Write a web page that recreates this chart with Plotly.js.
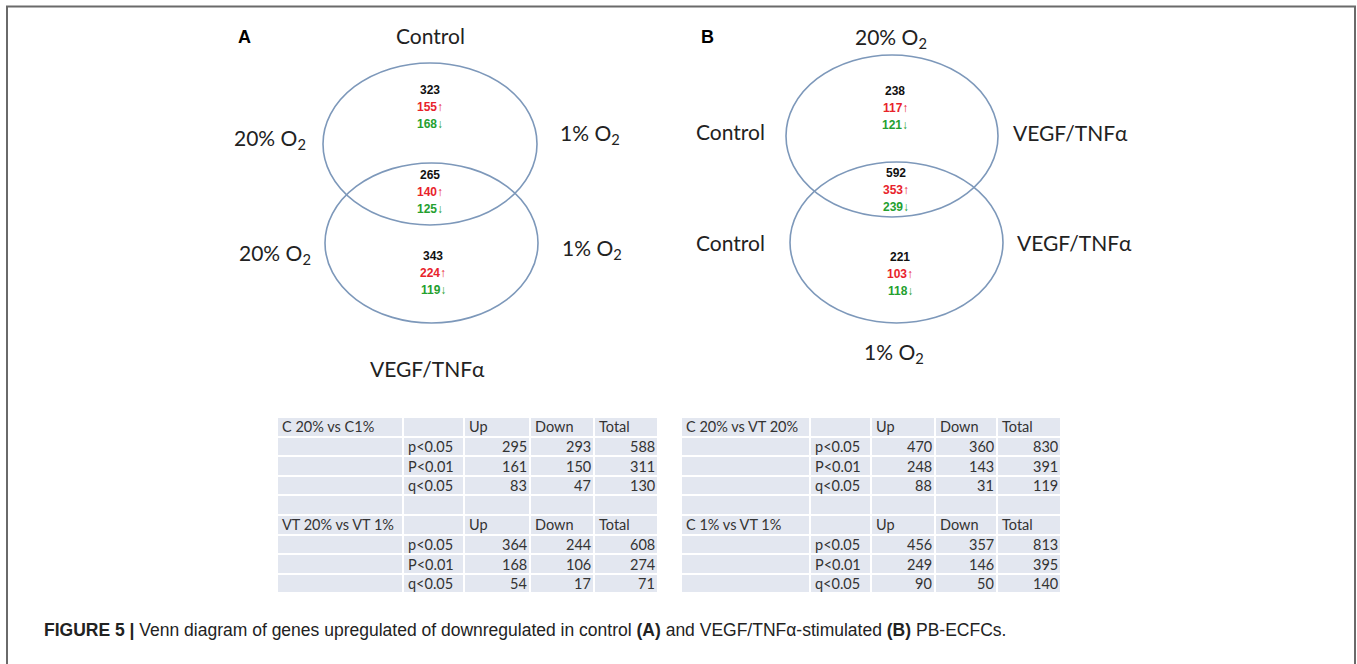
<!DOCTYPE html>
<html><head><meta charset="utf-8">
<script src="https://cdn.plot.ly/plotly-3.0.1.min.js"></script>
<style>html,body{margin:0;padding:0;background:#fff;overflow:hidden}</style>
</head><body><div id="chart" style="width:1357px;height:664px"></div>
<script>
// ---------------- DATA ----------------
const vennRegions = ['upper only', 'overlap', 'lower only'];
const vennATotal = [323, 265, 343];
const vennAUp = [155, 140, 224];
const vennADown = [168, 125, 119];
const vennALabels = ['Control', '20% O<sub>2</sub>', '1% O<sub>2</sub>', '20% O<sub>2</sub>', '1% O<sub>2</sub>', 'VEGF/TNFα'];

const vennBTotal = [238, 592, 221];
const vennBUp = [117, 353, 103];
const vennBDown = [121, 239, 118];
const vennBLabels = ['20% O<sub>2</sub>', 'Control', 'VEGF/TNFα', 'Control', 'VEGF/TNFα', '1% O<sub>2</sub>'];

const tableHeaders = ['Up', 'Down', 'Total'];
const thresholds = ['p<0.05', 'P<0.01', 'q<0.05'];

const tA1Title = 'C 20% vs C1%';
const tA1Up = [295, 161, 83];
const tA1Down = [293, 150, 47];
const tA1Total = [588, 311, 130];

const tA2Title = 'VT 20% vs VT 1%';
const tA2Up = [364, 168, 54];
const tA2Down = [244, 106, 17];
const tA2Total = [608, 274, 71];

const tB1Title = 'C 20% vs VT 20%';
const tB1Up = [470, 248, 88];
const tB1Down = [360, 143, 31];
const tB1Total = [830, 391, 119];

const tB2Title = 'C 1% vs VT 1%';
const tB2Up = [456, 249, 90];
const tB2Down = [357, 146, 50];
const tB2Total = [813, 395, 140];

const captionText = '<b>FIGURE 5 |</b> Venn diagram of genes upregulated of downregulated in control <b>(A)</b> and VEGF/TNFα-stimulated <b>(B)</b> PB-ECFCs.';

// ---------------- LAYOUT HELPERS ----------------
const W = 1357, H = 664;
const SANS = 'Lato, "Open Sans", "DejaVu Sans", sans-serif';
const HELV = '"Liberation Sans", Arial, sans-serif';
const shapes = [], annotations = [], traces = [];

function txt(x, y, text, size, color, xanchor, family) {
  annotations.push({x: x, y: y, xref: 'x', yref: 'y', text: text, showarrow: false,
    xanchor: xanchor || 'center', yanchor: 'middle',
    font: {family: family || SANS, size: size, color: color || '#111'}});
}
function ellipse(cx, cy, rx, ry) {
  shapes.push({type: 'circle', xref: 'x', yref: 'y', x0: cx - rx, x1: cx + rx, y0: cy - ry, y1: cy + ry,
    line: {color: '#7d98ba', width: 1.6}, layer: 'above'});
}

function venn(panel) {
  panel.ellipses.forEach(e => ellipse(e[0], e[1], e[2], e[3]));
  txt(panel.letterPos[0], panel.letterPos[1], '<b>' + panel.letter + '</b>', 18, '#000', 'left', HELV);
  panel.labels.forEach((l, i) => txt(panel.labelPos[i][0], panel.labelPos[i][1], l, 21, '#222'));
  vennRegions.forEach((r, i) => {
    const p = panel.numPos[i];
    txt(p[0], p[1], '<b>' + panel.total[i] + '</b>', 12, '#111', 'center', HELV);
    txt(p[0], p[1] + 17, '<b>' + panel.up[i] + '↑</b>', 12, '#e8232b', 'center', HELV);
    txt(p[0], p[1] + 34, '<b>' + panel.down[i] + '↓</b>', 12, '#25a02f', 'center', HELV);
  });
}

venn({
  letter: 'A', letterPos: [236, 37],
  ellipses: [[430, 144, 107, 81], [431.5, 243, 106.5, 80]],
  labels: vennALabels,
  labelPos: [[430, 35], [270, 139], [590, 134], [275, 254], [592, 249], [427, 368]],
  numPos: [[430, 90], [430, 175], [433, 256]],
  total: vennATotal, up: vennAUp, down: vennADown
});
venn({
  letter: 'B', letterPos: [699, 37],
  ellipses: [[892, 136, 106, 81], [896.5, 242.5, 106.5, 80.5]],
  labels: vennBLabels,
  labelPos: [[891, 38], [730.5, 131], [1070, 132], [730.5, 242], [1074, 242], [894, 353]],
  numPos: [[895, 91], [896, 173], [900, 257]],
  total: vennBTotal, up: vennBUp, down: vennBDown
});

// ---------------- TABLES ----------------
function table(edges, top, pitch, blocks) {
  const rows = [];
  blocks.forEach((b, bi) => {
    rows.push([b.title, '', tableHeaders[0], tableHeaders[1], tableHeaders[2]]);
    thresholds.forEach((t, i) => rows.push(['', t, b.up[i], b.down[i], b.total[i]]));
    if (bi < blocks.length - 1) rows.push(['', '', '', '', '']);
  });
  const yEdges = rows.map((r, i) => top + i * pitch).concat([top + rows.length * pitch]);
  traces.push({type: 'heatmap', x: edges, y: yEdges,
    z: rows.map(r => r.map(() => 1)),
    colorscale: [[0, '#e3e7f0'], [1, '#e3e7f0']], showscale: false,
    xgap: 2, ygap: 2, hoverinfo: 'skip', zmin: 0, zmax: 1});
  rows.forEach((r, ri) => {
    const yc = top + (ri + 0.5) * pitch;
    r.forEach((v, ci) => {
      if (v === '') return;
      const isNum = typeof v === 'number';
      const x = isNum ? edges[ci + 1] - 1 : edges[ci] + 3;
      txt(x, yc, String(v), 14.5, '#333', isNum ? 'right' : 'left');
    });
  });
}

table([277, 403, 464, 530, 594, 658], 417, 19.6, [
  {title: tA1Title, up: tA1Up, down: tA1Down, total: tA1Total},
  {title: tA2Title, up: tA2Up, down: tA2Down, total: tA2Total}
]);
table([681, 810, 871, 935, 997, 1061], 417, 19.6, [
  {title: tB1Title, up: tB1Up, down: tB1Down, total: tB1Total},
  {title: tB2Title, up: tB2Up, down: tB2Down, total: tB2Total}
]);

// ---------------- CAPTION & FRAME ----------------
txt(42, 630, captionText, 17.5, '#222', 'left', HELV);
shapes.push({type: 'path', xref: 'x', yref: 'y', path: 'M7,700 L7,6.5 L1355,6.5 L1355,700',
  line: {color: '#6a6a6a', width: 2}});

const layout = {
  width: W, height: H, margin: {l: 0, r: 0, t: 0, b: 0},
  paper_bgcolor: '#fff', plot_bgcolor: '#fff', showlegend: false,
  xaxis: {range: [0, W], visible: false, fixedrange: true},
  yaxis: {range: [H, 0], visible: false, fixedrange: true},
  shapes: shapes, annotations: annotations
};
Plotly.newPlot('chart', traces, layout, {staticPlot: true, displayModeBar: false});
</script></body></html>
